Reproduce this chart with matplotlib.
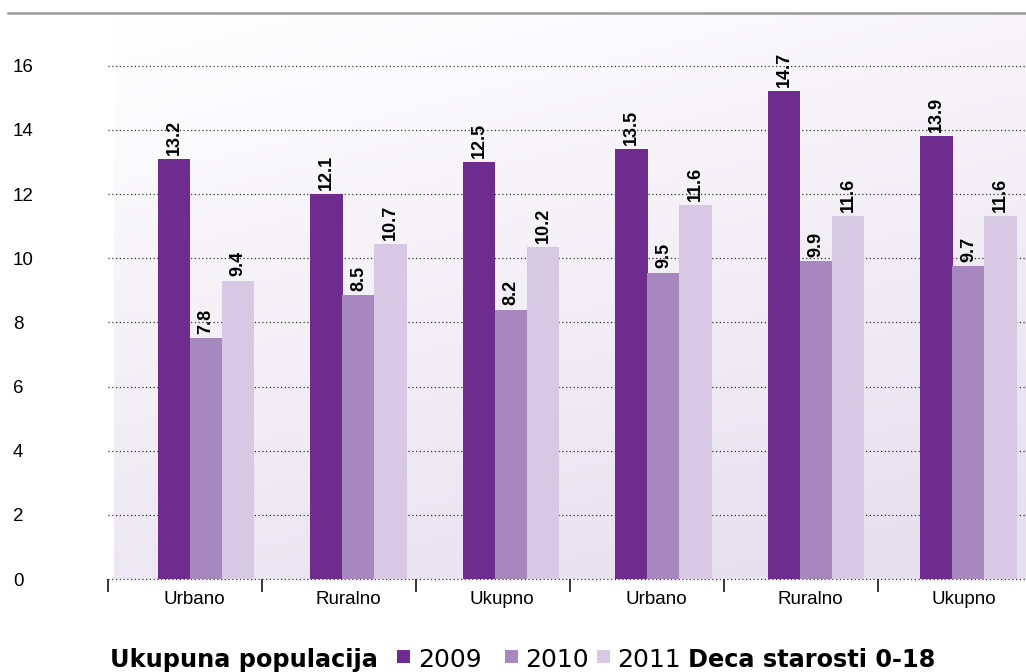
import numpy as np
import matplotlib
matplotlib.use('Agg')
import matplotlib.pyplot as plt
from matplotlib.patches import Rectangle
from matplotlib.lines import Line2D
from matplotlib.colors import to_rgb

# --- data ---
categories = ['Urbano', 'Ruralno', 'Ukupno', 'Urbano', 'Ruralno', 'Ukupno']
years = ['2009', '2010', '2011']
colors = ['#6e2c8e', '#a688be', '#d7c8e3']

# bar heights as drawn, and the printed value labels
heights_2009 = [13.1, 12.0, 13.0, 13.4, 15.2, 13.8]
heights_2010 = [7.5, 8.85, 8.4, 9.55, 9.9, 9.75]
heights_2011 = [9.3, 10.45, 10.35, 11.65, 11.3, 11.3]
labels_2009 = ['13.2', '12.1', '12.5', '13.5', '14.7', '13.9']
labels_2010 = ['7.8', '8.5', '8.2', '9.5', '9.9', '9.7']
labels_2011 = ['9.4', '10.7', '10.2', '11.6', '11.6', '11.6']

yticks = [0, 2, 4, 6, 8, 10, 12, 14, 16]
legend_left = 'Ukupuna populacija'
legend_right = 'Deca starosti 0-18'

W, H = 1026, 672
fig = plt.figure(figsize=(W / 100, H / 100), dpi=100)
fig.patch.set_facecolor('white')

# --- gradient background behind the plot ---
bg = fig.add_axes([114 / W, (H - 579) / H, (W - 114) / W, (579 - 15) / H])
u = np.linspace(0, 1, 200)[None, :]
v = np.linspace(0, 1, 200)[:, None]
t = np.clip(0.75 * v + 0.3 * u, 0, 1)[..., None]
c0 = np.array(to_rgb('#ffffff'))
c1 = np.array(to_rgb('#e6e0ee'))
grad = c0 * (1 - t) + c1 * t
bg.imshow(grad, aspect='auto', extent=[0, 1, 0, 1], origin='upper')
bg.axis('off')
bg.set_zorder(0)

# --- main axes ---
ax = fig.add_axes([108 / W, (H - 579) / H, (W - 108) / W, (579 - 65.7) / H])
ax.set_zorder(1)
ax.patch.set_visible(False)

x = np.arange(len(categories))
bw = 0.21
series = [heights_2009, heights_2010, heights_2011]
texts = [labels_2009, labels_2010, labels_2011]
for k in range(3):
    pos = x + (k - 1) * bw
    bars = ax.bar(pos, series[k], width=bw + 0.003, color=colors[k], zorder=3, linewidth=0)
    for b, lab in zip(bars, texts[k]):
        ax.annotate(lab, (b.get_x() + b.get_width() / 2, b.get_height()),
                    xytext=(0, 3), textcoords='offset points', rotation=90,
                    ha='center', va='bottom', fontsize=13, fontweight='bold',
                    family=['Liberation Sans', 'DejaVu Sans'], zorder=4)

ax.set_xlim(-0.6426, -0.6426 + (W - 108) / 152.5)
ax.set_ylim(0, 16)
for s in ax.spines.values():
    s.set_visible(False)

ax.set_yticks(yticks)
ax.set_yticklabels([str(t) for t in yticks], family=['Liberation Sans', 'DejaVu Sans'], fontsize=13.5)
ax.tick_params(axis='y', length=0, pad=68.4)
for lbl in ax.get_yticklabels():
    lbl.set_ha('left')

ax.yaxis.grid(True, linestyle=(0, (1, 2)), color='#333333', linewidth=0.9)
ax.set_axisbelow(True)
for gl in ax.get_ygridlines():
    gl.set_clip_on(False)
    gl.set_zorder(2)

# category boundaries (small ticks) and labels between them
bounds = np.arange(len(categories)) * 1.01 - 0.643
ax.set_xticks(bounds + 0.565)
ax.set_xticklabels(categories, family=['Liberation Sans', 'DejaVu Sans'], fontsize=13.5)
ax.tick_params(axis='x', which='major', length=0, pad=9)
ax.set_xticks(bounds, minor=True)
ax.tick_params(axis='x', which='minor', length=9.5, width=1.1, color='black', direction='out')

# --- top rule ---
fig.add_artist(Line2D([8 / W, 1], [1 - 13 / H, 1 - 13 / H], color='#9a9a9a', linewidth=1.8))

# --- legend line at the bottom ---
base = (H - 667) / H
fig.text(110 / W, base, legend_left, fontsize=17.3, fontweight='bold', va='baseline', ha='left')
sq_x = [397, 505, 597]
txt_x = [418, 525, 617]
for k in range(3):
    fig.add_artist(Rectangle((sq_x[k] / W, (H - 663) / H), 13 / W, 13 / H,
                             transform=fig.transFigure, color=colors[k], linewidth=0))
    fig.text(txt_x[k] / W, base, years[k], fontsize=18, va='baseline', ha='left')
fig.text(688 / W, base, legend_right, fontsize=17.3, fontweight='bold', va='baseline', ha='left')

fig.savefig('out.png', dpi=100)
